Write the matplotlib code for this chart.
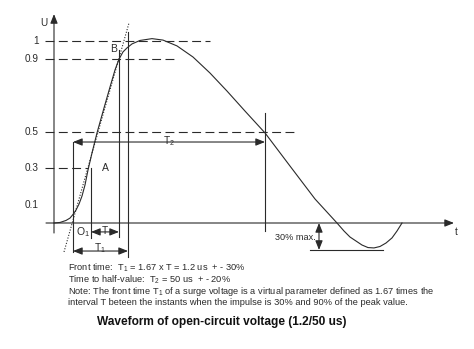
import matplotlib.pyplot as plt

# waveform (t in arbitrary units, U relative to peak)
wave_t = [0, 6, 12, 16, 19, 22, 25, 28, 31, 34, 38, 43, 50, 56, 61, 65, 69,
          73, 78, 86, 98, 109, 123, 139, 156, 173, 191, 211, 236, 261, 283,
          290, 296, 302, 308, 314, 320, 326, 332, 338, 343, 348]
wave_u = [0, 0.003, 0.014, 0.027, 0.047, 0.071, 0.104, 0.148, 0.209, 0.291,
          0.385, 0.495, 0.632, 0.747, 0.841, 0.900, 0.940, 0.962, 0.984,
          1.003, 1.013, 1.005, 0.973, 0.912, 0.824, 0.725, 0.615, 0.495,
          0.313, 0.132, 0, -0.044, -0.077, -0.099, -0.121, -0.135, -0.137,
          -0.129, -0.110, -0.082, -0.044, 0]

levels = [1, 0.9, 0.5, 0.3, 0.1]
level_labels = ['1', '0.9', '0.5', '0.3', '0.1']
level_dash_end = [156, 121, 244, 34, None]

t_o1 = 19       # virtual origin O1
t_30 = 37       # 30 % instant
t_90 = 65       # 90 % instant
t_front = 74    # end of T1
t_half = 211    # end of T2
undershoot = -0.148

notes = [
    'Front time:  T$_1$ = 1.67 x T = 1.2 us  + - 30%',
    'Time to half-value:  T$_2$ = 50 us  + - 20%',
    'Note: The front time T$_1$ of a surge voltage is a virtual parameter defined as 1.67 times the',
    'interval T beteen the instants when the impulse is 30% and 90% of the peak value.',
]
title = 'Waveform of open-circuit voltage (1.2/50 us)'

plt.rcParams['font.family'] = ['Liberation Sans', 'DejaVu Sans']
plt.rcParams['mathtext.default'] = 'regular'
ink = '#2a2a2a'

fig = plt.figure(figsize=(4.74, 3.49), dpi=100)
ax = fig.add_axes([0, 0, 1, 1])
ax.set_xlim(-54, 420)
ax.set_ylim(-126 / 182, 223 / 182)
ax.axis('off')

def arrow(x0, y0, x1, y1, style='-|>'):
    ax.annotate('', xy=(x1, y1), xytext=(x0, y0),
                arrowprops=dict(arrowstyle=style + ',head_length=0.55,head_width=0.22',
                                color=ink, lw=0.8, shrinkA=0, shrinkB=0,
                                mutation_scale=10))

# axes
arrow(-8, 0, 400, 0)
arrow(0, -0.055, 0, 1.148)
ax.text(-10, 1.099, 'U', fontsize=7.2, color=ink, ha='center', va='center')
ax.text(402, -0.05, 't', fontsize=7.2, color=ink, ha='center', va='center')

# level lines and labels
for lv, lab, end in zip(levels, level_labels, level_dash_end):
    ax.text(-15, lv, lab, fontsize=7.2, color=ink, ha='right', va='center')
    if end is not None:
        ax.plot([-9, end], [lv, lv], color=ink, lw=0.8, dashes=(8, 4))

# waveform and tangent through 30 % / 90 % points
ax.plot(wave_t, wave_u, color=ink, lw=0.8)
ax.plot([10, 75], [-0.159, 1.099], color=ink, lw=0.8, ls=(0, (1, 1.5)))

# vertical markers
ax.plot([t_o1, t_o1], [0.445, -0.16], color=ink, lw=0.8)
ax.plot([t_30, t_30], [0.3, -0.082], color=ink, lw=0.8)
ax.plot([t_90, t_90], [0.95, -0.077], color=ink, lw=0.8)
ax.plot([t_front, t_front], [1.05, -0.187], color=ink, lw=0.8)
ax.plot([t_half, t_half], [0.604, -0.044], color=ink, lw=0.8)

# time intervals
arrow(t_o1, 0.445, t_half, 0.445, '<|-|>')
ax.text(115, 0.45, 'T$_2$', fontsize=7.2, color=ink, ha='center', va='center')
arrow(t_30, -0.049, t_90, -0.049, '<|-|>')
ax.text(51, -0.045, 'T', fontsize=7.2, color=ink, ha='center', va='center')
arrow(t_o1, -0.154, t_front, -0.154, '<|-|>')
ax.text(46, -0.14, 'T$_1$', fontsize=7.2, color=ink, ha='center', va='center')

ax.text(51, 0.3, 'A', fontsize=7.5, color=ink, ha='center', va='center')
ax.text(60, 0.956, 'B', fontsize=7.5, color=ink, ha='center', va='center')
ax.text(29, -0.05, 'O$_1$', fontsize=7.5, color=ink, ha='center', va='center')

# undershoot
ax.plot([256, 329], [undershoot, undershoot], color=ink, lw=0.8)
arrow(265, 0, 265, undershoot, '<|-|>')
ax.text(262, -0.077, '30% max.', fontsize=6.6, color=ink, ha='right', va='center')

# notes and caption
for i, line in enumerate(notes):
    ax.text(14, -0.247 - i * 0.0635, line, fontsize=6.7, color=ink,
            ha='left', va='center')
ax.text(168, -0.544, title, fontsize=8.6, fontweight='bold', color='#111',
        ha='center', va='center')

fig.savefig('out.png', dpi=100)
